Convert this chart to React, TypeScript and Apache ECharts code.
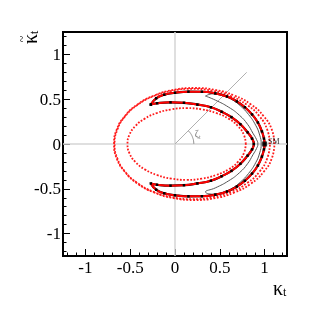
import React, { useEffect, useRef } from 'react';
import * as echarts from 'echarts';

const majorTicks = [-1, -0.5, 0, 0.5, 1];
const minorTicks = [-1.2, -1.1, -1.0, -0.9, -0.8, -0.7, -0.6, -0.5, -0.4, -0.3, -0.2, -0.1, 0, 0.1, 0.2, 0.3, 0.4, 0.5, 0.6, 0.7, 0.8, 0.9, 1.0, 1.1, 1.2];

const outerDottedA = [
  [1.11, 0], [1.08, 0.162], [0.99, 0.31], [0.848, 0.442], [0.663, 0.541], [0.447, 0.604], [0.215, 0.625],
  [-0.017, 0.604], [-0.233, 0.541], [-0.418, 0.442], [-0.56, 0.31], [-0.65, 0.162], [-0.68, 0],
  [-0.65, -0.162], [-0.56, -0.31], [-0.418, -0.442], [-0.233, -0.541], [-0.017, -0.604], [0.215, -0.625],
  [0.447, -0.604], [0.663, -0.541], [0.848, -0.442], [0.99, -0.31], [1.08, -0.162], [1.11, 0],
];
const outerDottedB = [
  [1.06, 0], [1.03, 0.159], [0.944, 0.308], [0.806, 0.435], [0.627, 0.533], [0.418, 0.594], [0.193, 0.615],
  [-0.032, 0.594], [-0.241, 0.533], [-0.42, 0.435], [-0.558, 0.308], [-0.644, 0.159], [-0.674, 0],
  [-0.644, -0.159], [-0.558, -0.308], [-0.42, -0.435], [-0.241, -0.533], [-0.032, -0.594], [0.193, -0.615],
  [0.418, -0.594], [0.627, -0.533], [0.806, -0.435], [0.944, -0.308], [1.03, -0.159], [1.06, 0],
];
const innerDotted = [
  [0.79, 0], [0.768, 0.104], [0.702, 0.2], [0.597, 0.283], [0.46, 0.346], [0.301, 0.386], [0.13, 0.4],
  [-0.041, 0.386], [-0.2, 0.346], [-0.337, 0.283], [-0.442, 0.2], [-0.508, 0.104], [-0.53, 0],
  [-0.508, -0.104], [-0.442, -0.2], [-0.337, -0.283], [-0.2, -0.346], [-0.041, -0.386], [0.13, -0.4],
  [0.301, -0.386], [0.46, -0.346], [0.597, -0.283], [0.702, -0.2], [0.768, -0.104], [0.79, 0],
];
const thickCrescent = [
  [-0.27, 0.44], [-0.21, 0.51], [-0.12, 0.55], [0.0, 0.572], [0.15, 0.584], [0.3, 0.583], [0.45, 0.565],
  [0.58, 0.53], [0.69, 0.475], [0.78, 0.41], [0.86, 0.33], [0.925, 0.24], [0.97, 0.14], [0.993, 0.06], [1.0, 0],
  [0.993, -0.06], [0.97, -0.14], [0.925, -0.24], [0.86, -0.33], [0.78, -0.41], [0.69, -0.475], [0.58, -0.53],
  [0.45, -0.565], [0.3, -0.583], [0.15, -0.584], [0.0, -0.572], [-0.12, -0.55], [-0.21, -0.51], [-0.27, -0.44],
  [-0.2, -0.455], [-0.05, -0.465], [0.1, -0.46], [0.25, -0.44], [0.4, -0.41], [0.52, -0.36], [0.63, -0.3],
  [0.73, -0.22], [0.81, -0.13], [0.86, -0.06], [0.88, 0],
  [0.86, 0.06], [0.81, 0.13], [0.73, 0.22], [0.63, 0.3], [0.52, 0.36], [0.4, 0.41], [0.25, 0.44],
  [0.1, 0.46], [-0.05, 0.465], [-0.2, 0.455], [-0.27, 0.44],
];
const thinCrescent = [
  [0.34, 0.535], [0.42, 0.56], [0.52, 0.545], [0.63, 0.5], [0.73, 0.425], [0.82, 0.33], [0.9, 0.21], [0.945, 0.1], [0.962, 0],
  [0.945, -0.1], [0.9, -0.21], [0.82, -0.33], [0.73, -0.425], [0.63, -0.5], [0.52, -0.545], [0.42, -0.56], [0.34, -0.535],
  [0.45, -0.49], [0.6, -0.41], [0.72, -0.32], [0.81, -0.22], [0.87, -0.12], [0.91, -0.05], [0.925, 0],
  [0.91, 0.05], [0.87, 0.12], [0.81, 0.22], [0.72, 0.32], [0.6, 0.41], [0.45, 0.49], [0.34, 0.535],
];
const zeroLineH = [[-1.25, 0], [1.25, 0]];
const zeroLineV = [[0, -1.25], [0, 1.25]];
const diagonal = [[0, 0], [0.8, 0.8]];
const angleArc = [[0.21, 0], [0.207, 0.036], [0.197, 0.072], [0.182, 0.105], [0.161, 0.135], [0.148, 0.148]];
const zetaLabelPos = [[0.253, 0.112]];
const smPoint = [[1, 0]];

const SERIF = "'Liberation Serif', 'DejaVu Serif', serif";

export default function App() {
  const ref = useRef<HTMLDivElement>(null);
  useEffect(() => {
    if (!ref.current) return;
    const chart = echarts.init(ref.current, undefined, { renderer: 'svg' });
    const axisCommon = (isX: boolean) => [
      {
        type: 'value', min: -1.25, max: 1.25, gridIndex: 0,
        position: isX ? 'bottom' : 'left',
        axisLine: { show: false, onZero: false },
        splitLine: { show: false },
        axisTick: { show: true, inside: true, length: 7, customValues: majorTicks, lineStyle: { color: '#000', width: 1 } },
        axisLabel: {
          show: true, customValues: majorTicks, margin: isX ? 3 : 2,
          fontFamily: SERIF, fontSize: 17, color: '#000',
          formatter: (v: number) => String(v),
        },
      },
      {
        type: 'value', min: -1.25, max: 1.25, gridIndex: 0,
        position: isX ? 'bottom' : 'left',
        axisLine: { show: false, onZero: false },
        splitLine: { show: false },
        axisTick: { show: true, inside: true, length: 3.5, customValues: minorTicks, lineStyle: { color: '#000', width: 1 } },
        axisLabel: { show: false },
      },
    ];
    const line = (data: number[][], color: string, width: number, type: any, smooth: boolean | number, extra: any = {}) => ({
      type: 'line', data, xAxisIndex: 0, yAxisIndex: 0, smooth, showSymbol: false, silent: true,
      lineStyle: { color, width, type, cap: 'butt' }, z: 2, ...extra,
    });
    chart.setOption({
      animation: false,
      grid: { left: 63, right: 31, top: 32, bottom: 63, show: true, borderColor: '#000', borderWidth: 2, backgroundColor: 'transparent' },
      xAxis: axisCommon(true),
      yAxis: axisCommon(false),
      series: [
        line(zeroLineH, '#d4d4d4', 1.5, 'solid', false),
        line(zeroLineV, '#d4d4d4', 1.5, 'solid', false),
        line(diagonal, '#b0b0b0', 1, 'solid', false),
        line(angleArc, '#909090', 1, 'solid', true),
        line(outerDottedA, '#ff1a1a', 1.8, [1.8, 1.6], true),
        line(outerDottedB, '#ff1a1a', 1.8, [1.8, 1.6], true),
        line(innerDotted, '#ff1a1a', 1.8, [1.8, 1.6], true),
        line(thinCrescent, '#555', 1, 'solid', true),
        line(thickCrescent, '#000', 2.2, 'solid', true),
        line(thickCrescent, '#ff0000', 2, 'solid', true, {
          showSymbol: true, symbol: 'rect', symbolSize: 2.5, itemStyle: { color: '#000' }, z: 3,
        }),
        {
          type: 'scatter', data: zetaLabelPos, symbolSize: 0, silent: true, z: 4,
          label: {
            show: true, position: 'inside', formatter: '{a|ζ}{b|t}',
            rich: {
              a: { fontFamily: SERIF, fontSize: 10, color: '#555', lineHeight: 12 },
              b: { fontFamily: SERIF, fontSize: 6, color: '#555', verticalAlign: 'bottom', lineHeight: 12 },
            },
          },
        },
        {
          type: 'scatter', data: smPoint, symbol: 'rect', symbolSize: 5, itemStyle: { color: '#000' }, silent: true, z: 5,
          label: { show: true, position: 'right', distance: 1, offset: [0, -3], formatter: 'SM', fontFamily: SERIF, fontSize: 8, color: '#000' },
        },
      ],
      graphic: [
        {
          type: 'text', x: 273, y: 288,
          style: {
            text: '{a|κ}{b|t}', textAlign: 'left', textVerticalAlign: 'middle',
            rich: {
              a: { fontFamily: SERIF, fontSize: 20, fill: '#000', lineHeight: 20 },
              b: { fontFamily: SERIF, fontSize: 12, fill: '#000', verticalAlign: 'bottom', lineHeight: 20 },
            },
          },
        },
        {
          type: 'text', x: 30, y: 44, rotation: Math.PI / 2,
          style: {
            text: '{a|κ}{b|t}', textAlign: 'left', textVerticalAlign: 'middle',
            rich: {
              a: { fontFamily: SERIF, fontSize: 20, fill: '#000', lineHeight: 20 },
              b: { fontFamily: SERIF, fontSize: 12, fill: '#000', verticalAlign: 'bottom', lineHeight: 20 },
            },
          },
        },
        {
          type: 'text', x: 22, y: 39, rotation: Math.PI / 2,
          style: { text: '~', textAlign: 'center', textVerticalAlign: 'middle', fontFamily: SERIF, fontSize: 12, fill: '#000' },
        },
      ],
    });
    return () => chart.dispose();
  }, []);
  return <div ref={ref} style={{ position: 'fixed', left: 0, top: 0, width: 318, height: 319 }} />;
}
